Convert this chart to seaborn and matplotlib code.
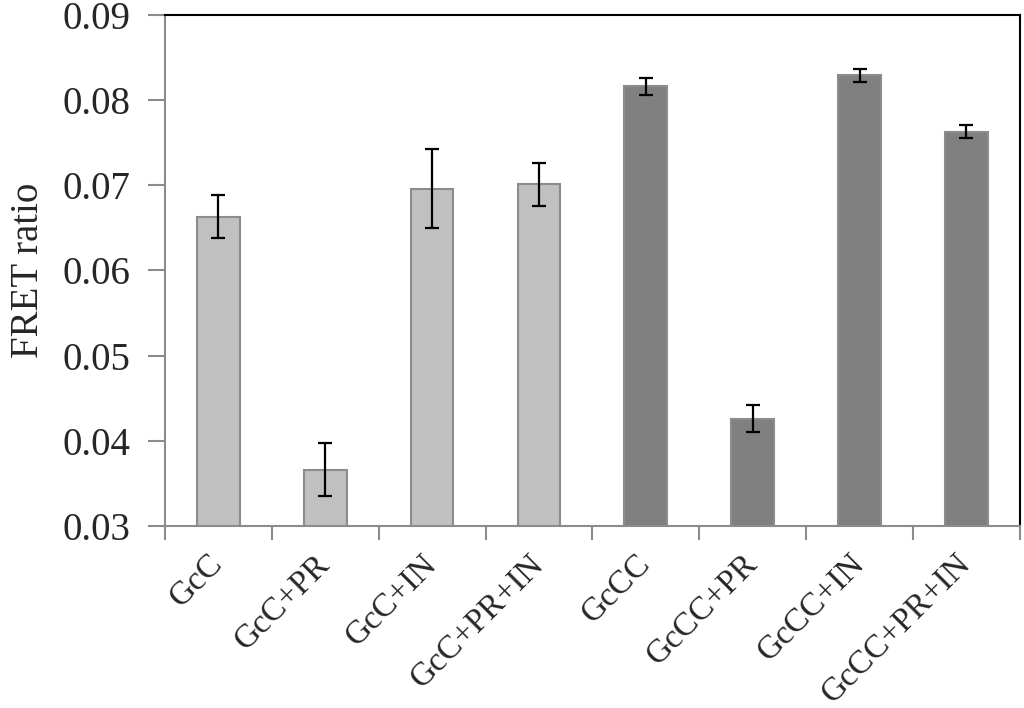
import os
import numpy as np
import pandas as pd
import matplotlib
matplotlib.use("Agg")
import matplotlib.pyplot as plt
from matplotlib.font_manager import FontProperties
from matplotlib.ticker import FixedLocator
import seaborn as sns

# Data
conditions = ['GcC', 'GcC+PR', 'GcC+IN', 'GcC+PR+IN',
              'GcCC', 'GcCC+PR', 'GcCC+IN', 'GcCC+PR+IN']
fret_ratio = [0.0663, 0.0366, 0.0696, 0.0701, 0.0816, 0.0426, 0.0829, 0.0763]
fret_err = [0.0025, 0.0031, 0.0046, 0.0025, 0.0010, 0.0016, 0.0008, 0.0008]
construct = ['GcC'] * 4 + ['GcCC'] * 4

sns.set_style("white")
plt.rcParams['font.family'] = 'Liberation Serif'

# Times-like font, by file when it is there
SERIF_FILE = '/usr/share/fonts/truetype/liberation/LiberationSerif-Regular.ttf'


def serif(size):
    if os.path.exists(SERIF_FILE):
        return FontProperties(fname=SERIF_FILE, size=size)
    return FontProperties(family='Liberation Serif', size=size)


df = pd.DataFrame({'condition': conditions, 'fret': fret_ratio,
                   'err': fret_err, 'construct': construct})

fig = plt.figure(figsize=(10.24, 7.08), dpi=100)
ax = fig.add_axes([0.161, 0.257, 0.835, 0.722])

sns.barplot(data=df, x='condition', y='fret', hue='construct',
            palette={'GcC': '#c0c0c0', 'GcCC': '#808080'},
            width=0.4, legend=False, ax=ax, linewidth=1.5,
            edgecolor='#8c8c8c', saturation=1)

ax.errorbar(np.arange(len(conditions)), df['fret'], yerr=df['err'],
            fmt='none', ecolor='black', elinewidth=1.6, capsize=5, capthick=1.6)

ax.set_ylim(0.03, 0.09)
ax.set_xlim(-0.5, len(conditions) - 0.5)
yticks = np.arange(0.03, 0.0901, 0.01)
ax.set_yticks(yticks)
ax.set_yticklabels([f'{v:.2f}' for v in yticks], fontproperties=serif(28))
ax.set_ylabel('FRET ratio', fontproperties=serif(28), labelpad=11)
ax.set_xlabel('')

ax.set_xticks(range(len(conditions)))
ax.set_xticklabels(conditions, rotation=45, ha='right', va='center',
                   rotation_mode='anchor', fontproperties=serif(24))
ax.xaxis.set_minor_locator(FixedLocator(np.arange(-0.5, len(conditions), 1.0)))
ax.tick_params(axis='x', which='major', length=0, pad=24)
ax.tick_params(axis='x', which='minor', length=10, width=1.5, color='#8c8c8c', bottom=True)
ax.tick_params(axis='y', length=12, width=1.5, color='#8c8c8c', left=True, pad=13)

for side in ['left', 'bottom']:
    ax.spines[side].set_color('#8c8c8c')
    ax.spines[side].set_linewidth(1.5)
for side in ['top', 'right']:
    ax.spines[side].set_color('black')
    ax.spines[side].set_linewidth(1.5)
    ax.spines[side].set_visible(True)

fig.savefig('out.png', dpi=100)
